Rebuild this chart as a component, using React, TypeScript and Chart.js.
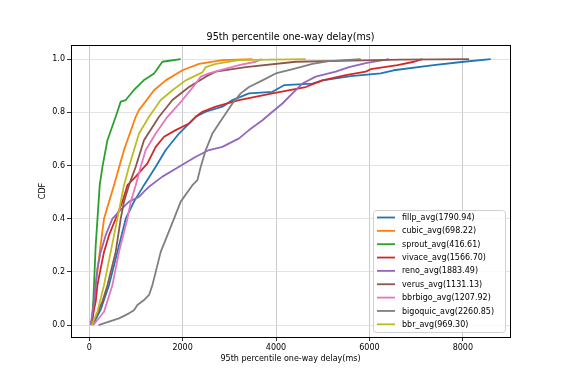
import React, { useEffect, useRef } from "react";
import { Chart, registerables } from "chart.js";

Chart.register(...registerables);

const TITLE = "95th percentile one-way delay(ms)";
const X_LABEL = "95th percentile one-way delay(ms)";
const Y_LABEL = "CDF";
const xTicks = [0, 2000, 4000, 6000, 8000];
const yTicks = [0, 0.2, 0.4, 0.6, 0.8, 1.0];

const seriesNames = [
  "fillp_avg(1790.94)",
  "cubic_avg(698.22)",
  "sprout_avg(416.61)",
  "vivace_avg(1566.70)",
  "reno_avg(1883.49)",
  "verus_avg(1131.13)",
  "bbrbigo_avg(1207.92)",
  "bigoquic_avg(2260.85)",
  "bbr_avg(969.30)",
];
const seriesColors = ["#1f77b4", "#ff7f0e", "#2ca02c", "#d62728", "#9467bd", "#8c564b", "#e377c2", "#7f7f7f", "#bcbd22"];

const fillpX = [75, 250, 424, 604, 782, 959, 1173, 1424, 1638, 1923, 2281, 2495, 2852, 3066, 3422, 3923, 4171, 4780, 4994, 5600, 6242, 6520, 7377, 8019, 8597];
const fillpY = [0, 0.06, 0.15, 0.275, 0.4, 0.464, 0.526, 0.595, 0.658, 0.72, 0.783, 0.802, 0.821, 0.846, 0.871, 0.877, 0.902, 0.908, 0.92, 0.936, 0.946, 0.958, 0.977, 0.99, 1.0];

const cubicX = [69, 139, 225, 317, 424, 531, 745, 996, 1066, 1388, 1638, 1996, 2351, 2852, 3495];
const cubicY = [0, 0.15, 0.275, 0.4, 0.464, 0.526, 0.658, 0.783, 0.808, 0.883, 0.92, 0.958, 0.982, 0.996, 1.0];

const sproutX = [54, 90, 139, 225, 283, 390, 567, 675, 782, 953, 1167, 1388, 1567, 1959];
const sproutY = [0, 0.1, 0.3, 0.526, 0.595, 0.695, 0.783, 0.84, 0.846, 0.883, 0.92, 0.946, 0.99, 1.0];

const vivaceX = [32, 139, 176, 246, 317, 424, 567, 711, 818, 996, 1246, 1424, 1602, 1852, 2137, 2281, 2424, 2709, 3208, 3923, 4636, 4994, 5493, 5921, 6028, 6600, 6955, 7135];
const vivaceY = [0, 0.088, 0.15, 0.213, 0.275, 0.338, 0.4, 0.464, 0.526, 0.558, 0.608, 0.67, 0.708, 0.733, 0.758, 0.783, 0.802, 0.821, 0.846, 0.871, 0.895, 0.92, 0.94, 0.953, 0.962, 0.977, 0.99, 1.0];

const renoX = [32, 103, 139, 176, 246, 353, 497, 638, 852, 1066, 1210, 1281, 1567, 1923, 2281, 2565, 2852, 3208, 3422, 3709, 3923, 4137, 4351, 4565, 4850, 5278, 5563, 5921, 6420];
const renoY = [0, 0.088, 0.15, 0.213, 0.275, 0.338, 0.4, 0.426, 0.464, 0.482, 0.508, 0.52, 0.558, 0.595, 0.633, 0.658, 0.67, 0.702, 0.733, 0.77, 0.802, 0.833, 0.871, 0.908, 0.934, 0.953, 0.97, 0.985, 1.0];

const verusX = [60, 283, 390, 567, 675, 745, 852, 996, 1173, 1495, 1782, 2137, 2495, 2709, 3351, 4422, 5850, 6670, 8133];
const verusY = [0, 0.088, 0.15, 0.275, 0.4, 0.464, 0.526, 0.595, 0.695, 0.783, 0.846, 0.895, 0.934, 0.953, 0.97, 0.99, 0.995, 0.998, 1.0];

const bbrbigoX = [90, 317, 497, 638, 818, 889, 996, 1103, 1210, 1424, 1675, 1996, 2281, 2388, 2565, 2852, 3208, 3565, 3700];
const bbrbigoY = [0, 0.05, 0.15, 0.275, 0.4, 0.464, 0.526, 0.595, 0.658, 0.72, 0.783, 0.846, 0.908, 0.934, 0.946, 0.96, 0.977, 0.99, 1.0];

const bigoquicX = [200, 424, 638, 852, 959, 1032, 1173, 1281, 1353, 1424, 1531, 1675, 1816, 1959, 2210, 2317, 2388, 2495, 2638, 2779, 2923, 3066, 3244, 3422, 3709, 3994, 4422, 4780, 5135, 5814];
const bigoquicY = [0, 0.013, 0.025, 0.044, 0.056, 0.075, 0.094, 0.113, 0.15, 0.2, 0.275, 0.338, 0.4, 0.464, 0.526, 0.545, 0.595, 0.658, 0.72, 0.758, 0.795, 0.833, 0.871, 0.895, 0.92, 0.946, 0.965, 0.982, 0.992, 1.0];

const bbrX = [54, 176, 317, 460, 604, 745, 852, 1066, 1281, 1531, 1782, 2066, 2424, 2495, 2709, 3208, 4636];
const bbrY = [0, 0.05, 0.15, 0.275, 0.4, 0.526, 0.595, 0.72, 0.783, 0.846, 0.883, 0.92, 0.95, 0.97, 0.982, 0.996, 1.0];

const seriesX = [fillpX, cubicX, sproutX, vivaceX, renoX, verusX, bbrbigoX, bigoquicX, bbrX];
const seriesY = [fillpY, cubicY, sproutY, vivaceY, renoY, verusY, bbrbigoY, bigoquicY, bbrY];

const FONT = "'DejaVu Sans', sans-serif";

const decorPlugin = {
  id: "decor",
  afterDraw(chart: any) {
    const { ctx, chartArea: a } = chart;
    ctx.save();
    // frame
    ctx.strokeStyle = "#000";
    ctx.lineWidth = 1;
    ctx.strokeRect(Math.round(a.left) + 0.5, Math.round(a.top) + 0.5, Math.round(a.right - a.left), Math.round(a.bottom - a.top));
    // title
    ctx.fillStyle = "#000";
    ctx.textAlign = "center";
    ctx.textBaseline = "middle";
    ctx.font = `9.6px ${FONT}`;
    ctx.fillText(TITLE, (a.left + a.right) / 2, 37.5);
    // x label
    ctx.font = `8px ${FONT}`;
    ctx.fillText(X_LABEL, (a.left + a.right) / 2, 359);
    // y label
    ctx.save();
    ctx.translate(43, (a.top + a.bottom) / 2);
    ctx.rotate(-Math.PI / 2);
    ctx.fillText(Y_LABEL, 0, 0);
    ctx.restore();
    // legend
    const lx = 373.5, ly = 210.5, lw = 132, lh = 122, r = 3;
    ctx.beginPath();
    ctx.moveTo(lx + r, ly);
    ctx.lineTo(lx + lw - r, ly);
    ctx.quadraticCurveTo(lx + lw, ly, lx + lw, ly + r);
    ctx.lineTo(lx + lw, ly + lh - r);
    ctx.quadraticCurveTo(lx + lw, ly + lh, lx + lw - r, ly + lh);
    ctx.lineTo(lx + r, ly + lh);
    ctx.quadraticCurveTo(lx, ly + lh, lx, ly + lh - r);
    ctx.lineTo(lx, ly + r);
    ctx.quadraticCurveTo(lx, ly, lx + r, ly);
    ctx.closePath();
    ctx.fillStyle = "rgba(255,255,255,0.8)";
    ctx.fill();
    ctx.strokeStyle = "#d0d0d0";
    ctx.lineWidth = 1;
    ctx.stroke();
    ctx.textAlign = "left";
    ctx.textBaseline = "middle";
    ctx.font = `8px ${FONT}`;
    chart.data.datasets.forEach((ds: any, i: number) => {
      const y = 217.5 + i * 13.35;
      ctx.strokeStyle = ds.borderColor;
      ctx.lineWidth = 1.8;
      ctx.beginPath();
      ctx.moveTo(377, y);
      ctx.lineTo(395, y);
      ctx.stroke();
      ctx.fillStyle = "#000";
      ctx.fillText(ds.label, 402, y + 0.5);
    });
    ctx.restore();
  },
};

export default function App() {
  const ref = useRef<HTMLCanvasElement | null>(null);
  useEffect(() => {
    document.body.style.margin = "0";
    const n = seriesNames.length;
    const datasets = seriesNames.map((name, i) => ({
      label: name,
      data: seriesX[i].map((x, j) => ({ x, y: seriesY[i][j] })),
      borderColor: seriesColors[i],
      backgroundColor: seriesColors[i],
      borderWidth: 1.8,
      pointRadius: 0,
      tension: 0,
      fill: false,
      borderJoinStyle: "round" as const,
      order: n - i,
    }));
    const chart = new Chart(ref.current as HTMLCanvasElement, {
      type: "line",
      data: { datasets },
      options: {
        animation: false,
        responsive: false,
        devicePixelRatio: 1,
        layout: { padding: { left: 0, right: 56, top: 45, bottom: 0 } },
        plugins: { legend: { display: false }, title: { display: false }, tooltip: { enabled: false } },
        scales: {
          x: {
            type: "linear",
            min: -390,
            max: 9010,
            afterFit: (s: any) => { s.height = 42; },
            afterBuildTicks: (s: any) => { s.ticks = xTicks.map((v) => ({ value: v })); },
            ticks: { color: "#000", font: { family: FONT, size: 8 }, padding: 2, maxRotation: 0, callback: (v: any) => String(v) },
            grid: { color: "#bdbdbd", lineWidth: 0.8, tickColor: "#000", tickLength: 4, drawTicks: true },
            border: { display: false },
          },
          y: {
            type: "linear",
            min: -0.045,
            max: 1.053,
            afterFit: (s: any) => { s.width = 71; },
            afterBuildTicks: (s: any) => { s.ticks = yTicks.map((v) => ({ value: v })); },
            ticks: { color: "#000", font: { family: FONT, size: 8 }, padding: 2, callback: (v: any) => Number(v).toFixed(1) },
            grid: { color: "#dcdcdc", lineWidth: 0.8, tickColor: "#000", tickLength: 4, drawTicks: true },
            border: { display: false },
          },
        },
      },
      plugins: [decorPlugin],
    });
    return () => chart.destroy();
  }, []);
  return (
    <div style={{ position: "absolute", left: 0, top: 0, width: 566, height: 379, background: "#fff" }}>
      <canvas ref={ref} width={566} height={379} style={{ width: 566, height: 379 }} />
    </div>
  );
}
